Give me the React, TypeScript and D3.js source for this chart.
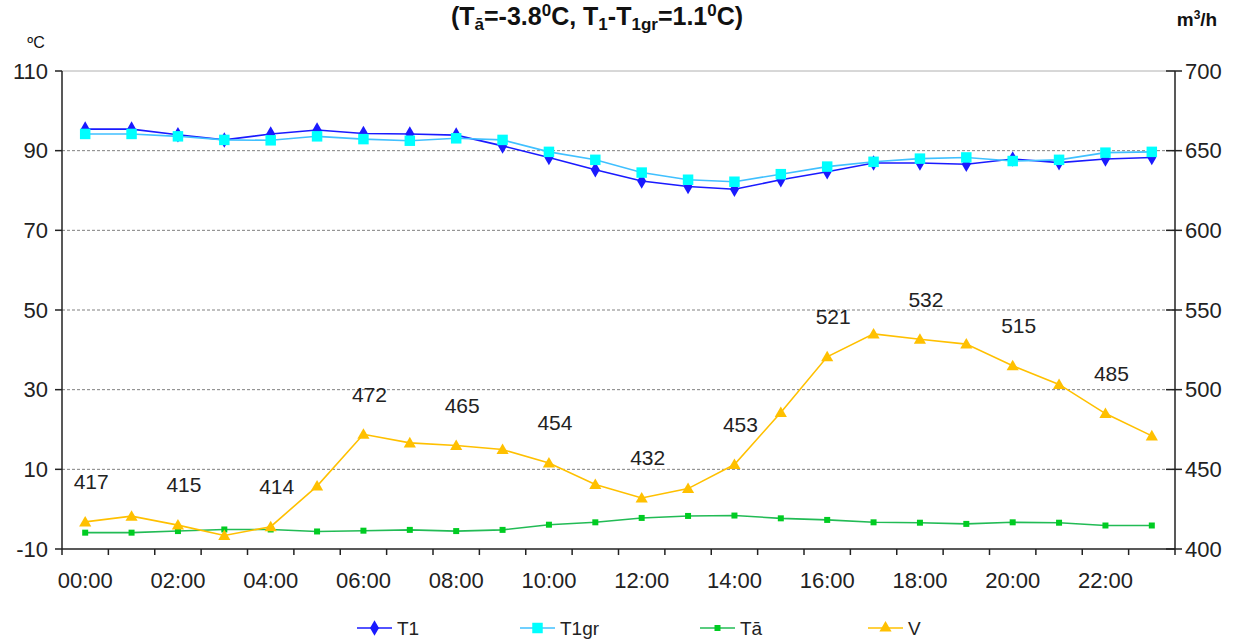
import React from "react";
import * as d3 from "d3";

const hours = ["00:00","01:00","02:00","03:00","04:00","05:00","06:00","07:00","08:00","09:00","10:00","11:00","12:00","13:00","14:00","15:00","16:00","17:00","18:00","19:00","20:00","21:00","22:00","23:00"];
const t1 = [95.4,95.4,94.0,92.7,94.2,95.2,94.3,94.2,93.9,91.2,88.3,85.2,82.4,81.0,80.3,82.7,84.7,86.9,86.9,86.6,87.9,87.0,87.9,88.3];
const t1gr = [94.2,94.2,93.6,92.7,92.6,93.6,92.9,92.5,93.1,92.7,89.7,87.7,84.5,82.7,82.2,84.1,86.0,87.2,88.0,88.3,87.4,87.7,89.5,89.7];
const ta = [-5.9,-5.9,-5.5,-5.1,-5.1,-5.6,-5.4,-5.2,-5.5,-5.2,-3.9,-3.3,-2.2,-1.7,-1.6,-2.3,-2.7,-3.3,-3.4,-3.7,-3.3,-3.4,-4.1,-4.1];
const v = [417,420.6,415,408.5,414,439.5,472,466.6,465,462.4,454,440.5,432,437.9,453,485.7,520.6,535,531.6,528.6,515,503.3,485,471];
const leftTicks = [-10,10,30,50,70,90,110];
const rightTicks = [400,450,500,550,600,650,700];
const xTickLabels = ["00:00","02:00","04:00","06:00","08:00","10:00","12:00","14:00","16:00","18:00","20:00","22:00"];

const W = 1239, H = 640;
const L = 62, R = 1175, T = 71, B = 549;
const FONT = "'Liberation Sans', Arial, sans-serif";

export default function App() {
  const x = d3.scaleBand<string>().domain(hours).range([L, R]);
  const cx = (h: string) => (x(h) as number) + x.bandwidth() / 2;
  const yL = d3.scaleLinear().domain([-10, 110]).range([B, T]);
  const yR = d3.scaleLinear().domain([400, 700]).range([B, T]);

  const lineL = d3.line<number>().x((_, i) => cx(hours[i])).y((d) => yL(d));
  const lineR = d3.line<number>().x((_, i) => cx(hours[i])).y((d) => yR(d));

  const diamond = d3.symbol(d3.symbolDiamond, 70)() as string;
  const square = d3.symbol(d3.symbolSquare, 110)() as string;
  const smallSq = d3.symbol(d3.symbolSquare, 36)() as string;
  const tri = d3.symbol(d3.symbolTriangle, 64)() as string;

  const C_T1 = "#1a1aff", C_T1GR_L = "#40c0ff", C_T1GR_M = "#00ffff", C_TA = "#22bb55", C_TA_M = "#00cc22", C_V = "#ffc000";

  const legend = [
    { name: "T1", x: 357, color: C_T1, mcolor: C_T1, sym: diamond },
    { name: "T1gr", x: 520, color: C_T1GR_L, mcolor: C_T1GR_M, sym: square },
    { name: "Tā", x: 700, color: C_TA, mcolor: C_TA_M, sym: smallSq },
    { name: "V", x: 868, color: C_V, mcolor: C_V, sym: tri },
  ];

  return (
    <div style={{ position: "absolute", left: 0, top: 0 }}>
      <svg width={W} height={H} style={{ display: "block", background: "#fff" }} fontFamily={FONT}>
        {/* title */}
        <text x={597} y={25} textAnchor="middle" fontSize={25} fontWeight="bold" fill="#111">
          <tspan>(T</tspan>
          <tspan fontSize={17} dy={5}>ā</tspan>
          <tspan dy={-5}>=-3.8</tspan>
          <tspan fontSize={17} dy={-9}>0</tspan>
          <tspan dy={9}>C, T</tspan>
          <tspan fontSize={17} dy={5}>1</tspan>
          <tspan dy={-5}>-T</tspan>
          <tspan fontSize={17} dy={5}>1gr</tspan>
          <tspan dy={-5}>=1.1</tspan>
          <tspan fontSize={17} dy={-9}>0</tspan>
          <tspan dy={9}>C)</tspan>
        </text>
        <text x={36} y={48} textAnchor="middle" fontSize={16} fill="#111">ºC</text>
        <text x={1197} y={26} textAnchor="middle" fontSize={19} fontWeight="bold" fill="#111">
          <tspan>m</tspan><tspan fontSize={12} dy={-7}>3</tspan><tspan dy={7}>/h</tspan>
        </text>

        {/* grid */}
        <line x1={L} x2={R} y1={T} y2={T} stroke="#b0b0b0" strokeWidth={1} />
        {leftTicks.filter((t) => t > -10 && t < 110).map((t) => (
          <line key={"g" + t} x1={L} x2={R} y1={yL(t)} y2={yL(t)} stroke="#808080" strokeWidth={1} strokeDasharray="3,2" />
        ))}

        {/* left axis */}
        <line x1={L} x2={L} y1={T} y2={B} stroke="#222" strokeWidth={1.5} />
        {leftTicks.map((t) => (
          <g key={"l" + t}>
            <line x1={L - 7} x2={L} y1={yL(t)} y2={yL(t)} stroke="#222" strokeWidth={1.5} />
            <text x={L - 14} y={yL(t)} dy="0.35em" textAnchor="end" fontSize={22} fill="#222">{t}</text>
          </g>
        ))}
        {/* right axis */}
        <line x1={R} x2={R} y1={T} y2={B} stroke="#222" strokeWidth={1.5} />
        {rightTicks.map((t) => (
          <g key={"r" + t}>
            <line x1={R - 9} x2={R + 7} y1={yR(t)} y2={yR(t)} stroke="#222" strokeWidth={1.5} />
            <text x={R + 10} y={yR(t)} dy="0.35em" textAnchor="start" fontSize={22} fill="#222">{t}</text>
          </g>
        ))}
        {/* bottom axis */}
        <line x1={L} x2={R} y1={B} y2={B} stroke="#222" strokeWidth={1.5} />
        {hours.map((h) => (
          <line key={"xt" + h} x1={x(h) as number} x2={x(h) as number} y1={B} y2={B + 6} stroke="#222" strokeWidth={1.5} />
        ))}
        <line x1={R} x2={R} y1={B} y2={B + 6} stroke="#222" strokeWidth={1.5} />
        {xTickLabels.map((h) => (
          <text key={"xl" + h} x={cx(h)} y={588} textAnchor="middle" fontSize={22} fill="#222">{h}</text>
        ))}

        {/* series */}
        <path d={lineL(ta) as string} fill="none" stroke={C_TA} strokeWidth={1.6} />
        {ta.map((d, i) => (
          <path key={"ta" + i} d={smallSq} transform={`translate(${cx(hours[i])},${yL(d)})`} fill={C_TA_M} />
        ))}
        <path d={lineR(v) as string} fill="none" stroke={C_V} strokeWidth={1.6} />
        {v.map((d, i) => (
          <path key={"v" + i} d={tri} transform={`translate(${cx(hours[i])},${yR(d) + 1})`} fill={C_V} />
        ))}
        <path d={lineL(t1) as string} fill="none" stroke={C_T1} strokeWidth={1.6} />
        {t1.map((d, i) => (
          <path key={"t1" + i} d={diamond} transform={`translate(${cx(hours[i])},${yL(d)})`} fill={C_T1} />
        ))}
        <path d={lineL(t1gr) as string} fill="none" stroke={C_T1GR_L} strokeWidth={1.6} />
        {t1gr.map((d, i) => (
          <path key={"t1gr" + i} d={square} transform={`translate(${cx(hours[i])},${yL(d)})`} fill={C_T1GR_M} />
        ))}

        {/* data labels */}
        {v.map((d, i) =>
          i % 2 === 0 ? (
            <text key={"vl" + i} x={cx(hours[i]) + 6} y={yR(d) - 40} dy="0.35em" textAnchor="middle" fontSize={21} fill="#222">
              {Math.round(d)}
            </text>
          ) : null
        )}

        {/* legend */}
        {legend.map((it) => (
          <g key={"lg" + it.name}>
            <line x1={it.x} x2={it.x + 35} y1={628} y2={628} stroke={it.color} strokeWidth={1.6} />
            <path d={it.sym} transform={`translate(${it.x + 17.5},628)`} fill={it.mcolor} />
            <text x={it.x + 40} y={628} dy="0.35em" fontSize={19} fill="#222">{it.name}</text>
          </g>
        ))}
      </svg>
    </div>
  );
}
